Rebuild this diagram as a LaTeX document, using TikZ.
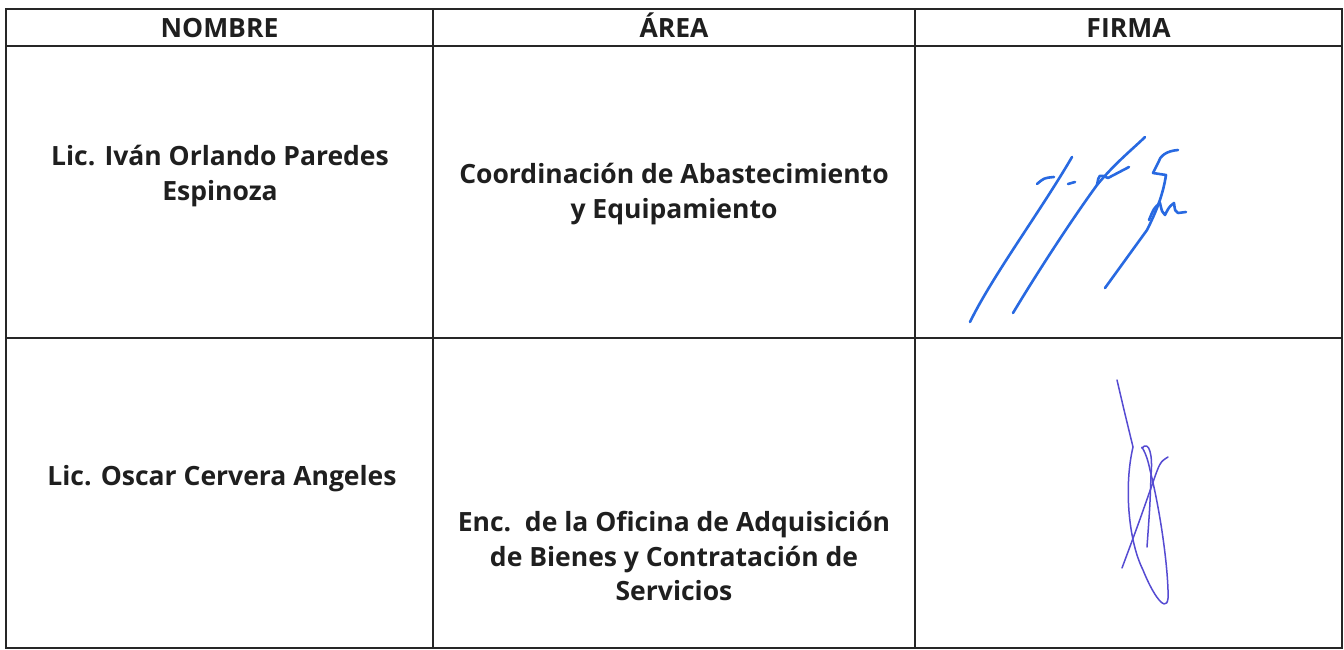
\documentclass[tikz,border=0pt]{standalone}
\usepackage{fontspec}
\setmainfont{Open Sans}
\begin{document}
\begin{tikzpicture}[x=1pt,y=-1pt,
  grid/.style={line width=1.6pt,draw=black!85},
  cell/.style={align=center,font=\bfseries\fontsize{26.5}{34.5}\selectfont,text=black!88,inner sep=0pt},
  sigA/.style={line width=2.6pt,draw={rgb,255:red,40;green,105;blue,225},line cap=round,line join=round},
  sigB/.style={line width=1.5pt,draw={rgb,255:red,85;green,75;blue,210},line cap=round,line join=round}]
\useasboundingbox (0,0) rectangle (1344,650);
\fill[white] (0,0) rectangle (1344,650);
% grid
\draw[grid] (6,9) rectangle (1342,648);
\draw[grid] (6,46) -- (1342,46);
\draw[grid] (6,338) -- (1342,338);
\draw[grid] (433,9) -- (433,648);
\draw[grid] (915,9) -- (915,648);
% header
\node[cell,anchor=base] (h1) at (219.5,38) {NOMBRE};
\node[cell,anchor=base] (h2) at (674,38) {ÁREA};
\node[cell,anchor=base] (h3) at (1128.5,38) {FIRMA};
% row 1
\node[cell] (n1) at (220,176) {Lic. Iván Orlando Paredes\\Espinoza};
\node[cell] (a1) at (674,194) {Coordinación de Abastecimiento\\y Equipamiento};
% row 2
\node[cell] (n2) at (222,479) {Lic. Oscar Cervera Angeles};
\node[cell] (a2) at (674,556) {Enc.\ \ de la Oficina de Adquisición\\de Bienes y Contratación de\\Servicios};
% signature 1
\draw[sigA] (1037,184) .. controls (1044,178) .. (1054,177);
\draw[sigA] (970,322) .. controls (993,275) and (1040,212) .. (1072,157);
\draw[sigA] (1068,184) -- (1075,182);
\draw[sigA] (1013,313) .. controls (1040,268) and (1075,215) .. (1097,185) .. controls (1115,163) and (1135,147) .. (1145,137);
\draw[sigA] (1097,185) .. controls (1099,174) .. (1108,178) -- (1129,167);
\draw[sigA] (1178,150) .. controls (1166,151) and (1160,156) .. (1158,163) -- (1153,173) -- (1166,175) .. controls (1163,195) and (1156,212) .. (1147,230) -- (1105,288);
\draw[sigA] (1149,220) .. controls (1154,208) .. (1160,203) .. controls (1162,212) .. (1165,215) .. controls (1169,207) .. (1174,203) .. controls (1175,211) .. (1178,213) -- (1186,212);
% signature 2
\draw[sigB] (1117,380) .. controls (1124,410) .. (1133,447);
\draw[sigB] (1133,447) .. controls (1124,485) and (1128,540) .. (1143,570) .. controls (1155,600) and (1170,618) .. (1168,590) .. controls (1167,560) and (1160,510) .. (1150,470) .. controls (1146,450) and (1140,445) .. (1142,448);
\draw[sigB] (1142,448) .. controls (1149,440) and (1153,455) .. (1151,475) .. controls (1150,505) .. (1147,547);
\draw[sigB] (1122,568) .. controls (1138,525) .. (1152,485) .. controls (1160,462) .. (1168,457);
\end{tikzpicture}
\end{document}
